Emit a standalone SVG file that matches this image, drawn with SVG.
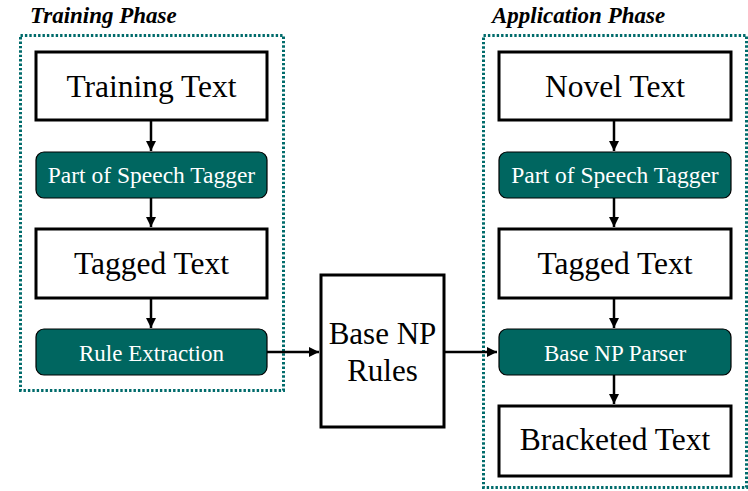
<svg xmlns="http://www.w3.org/2000/svg" width="748" height="491" viewBox="0 0 748 491">
<defs>
<style>
.frame{fill:none;stroke:#006b6b;stroke-width:3;stroke-dasharray:2.4 2}
.wbox{fill:#ffffff;stroke:#000000;stroke-width:3}
.tbox{fill:#006660;stroke:#000000;stroke-width:1.2}
.big{font-family:"Liberation Serif","Times New Roman",serif;font-size:31.5px;fill:#000000;text-anchor:middle}
.small{font-family:"Liberation Serif","Times New Roman",serif;font-size:23px;fill:#ffffff;text-anchor:middle}
.title{font-family:"Liberation Serif","Times New Roman",serif;font-size:23px;font-weight:bold;font-style:italic;fill:#000000}
.conn{fill:none;stroke:#000000;stroke-width:2.5;marker-end:url(#ah)}
</style>
<marker id="ah" viewBox="0 0 10 10" refX="10" refY="5" markerWidth="4" markerHeight="4" orient="auto" markerUnits="strokeWidth">
<path d="M0,0 L10,5 L0,10 z" fill="#000000"/>
</marker>
</defs>
<rect width="748" height="491" fill="#ffffff"/>
<g id="training-phase">
<rect class="frame" x="20.5" y="35.5" width="263" height="355"/>
<text class="title" x="30" y="23">Training Phase</text>
</g>
<g id="application-phase">
<rect class="frame" x="483.5" y="35.5" width="263" height="452"/>
<text class="title" x="492" y="23">Application Phase</text>
</g>
<g id="connectors">
<line class="conn" x1="151" y1="121" x2="151" y2="151"/>
<line class="conn" x1="151" y1="198" x2="151" y2="227"/>
<line class="conn" x1="151" y1="299" x2="151" y2="328"/>
<line class="conn" x1="267" y1="352" x2="319" y2="352"/>
<line class="conn" x1="445" y1="352" x2="497" y2="352"/>
<line class="conn" x1="614" y1="121" x2="614" y2="151"/>
<line class="conn" x1="614" y1="198" x2="614" y2="227"/>
<line class="conn" x1="614" y1="299" x2="614" y2="328"/>
<line class="conn" x1="614" y1="375" x2="614" y2="404"/>
</g>
<g id="training-text">
<rect class="wbox" x="36" y="52" width="231" height="68"/>
<text class="big" x="151.5" y="97">Training Text</text>
</g>
<g id="pos-tagger-1">
<rect class="tbox" x="36" y="152" width="231" height="46" rx="8"/>
<text class="small" x="151.5" y="183" style="font-size:23.5px">Part of Speech Tagger</text>
</g>
<g id="tagged-text-1">
<rect class="wbox" x="36" y="229" width="231" height="69"/>
<text class="big" x="151.5" y="274">Tagged Text</text>
</g>
<g id="rule-extraction">
<rect class="tbox" x="36" y="329" width="231" height="46" rx="8"/>
<text class="small" x="151.5" y="361">Rule Extraction</text>
</g>
<g id="base-np-rules">
<rect class="wbox" x="321" y="275" width="123" height="152"/>
<text class="big" x="382.5" y="344" style="font-size:31px">Base NP</text>
<text class="big" x="382.5" y="381" style="font-size:31px">Rules</text>
</g>
<g id="novel-text">
<rect class="wbox" x="499" y="52" width="232" height="68"/>
<text class="big" x="615" y="97">Novel Text</text>
</g>
<g id="pos-tagger-2">
<rect class="tbox" x="499" y="152" width="232" height="46" rx="8"/>
<text class="small" x="615" y="183" style="font-size:23.5px">Part of Speech Tagger</text>
</g>
<g id="tagged-text-2">
<rect class="wbox" x="499" y="229" width="232" height="69"/>
<text class="big" x="615" y="274">Tagged Text</text>
</g>
<g id="base-np-parser">
<rect class="tbox" x="499" y="329" width="232" height="46" rx="8"/>
<text class="small" x="615" y="361">Base NP Parser</text>
</g>
<g id="bracketed-text">
<rect class="wbox" x="499" y="406" width="232" height="70"/>
<text class="big" x="615" y="450">Bracketed Text</text>
</g>
</svg>
